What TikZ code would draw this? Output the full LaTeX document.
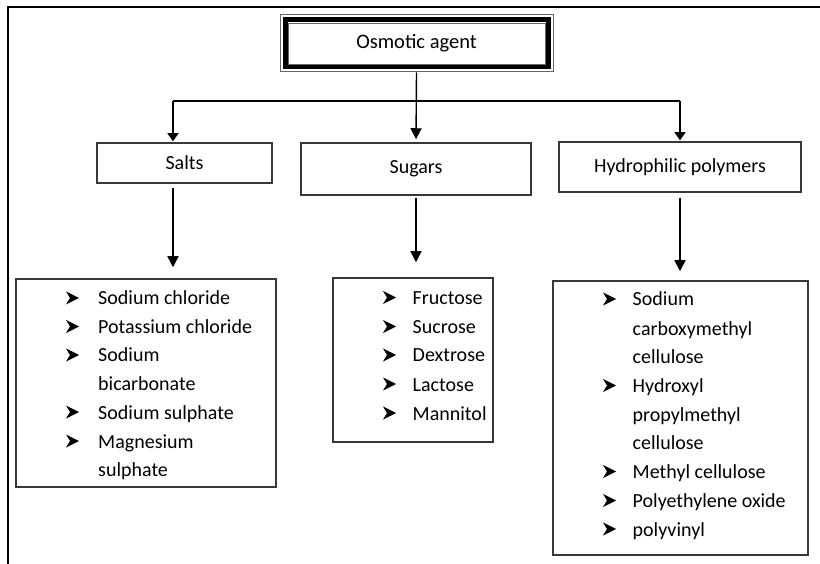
\documentclass[tikz,border=0pt]{standalone}
\usepackage{fontspec}
\setmainfont{Carlito}
\usetikzlibrary{arrows.meta,calc}

\tikzset{
  frameline/.style={line width=2pt, black},
  catbox/.style={draw=black!78, line width=1.5pt, rectangle, inner sep=0pt,
                 font=\fontsize{20}{24}\selectfont},
  listbox/.style={draw=black!78, line width=1.5pt, rectangle, inner sep=0pt},
  itemtext/.style={anchor=base west, inner sep=0pt, font=\fontsize{20}{24}\selectfont},
  flow/.style={line width=1.4pt, black},
  bigarrow/.style={flow, -{Triangle[length=11pt,width=11pt]}},
  smallarrow/.style={flow, -{Triangle[length=8pt,width=11pt]}},
  pics/arrowbullet/.style={code={
    \fill[black] (0,-6.5) -- (13,0) -- (0,6.5) -- (4,0) -- cycle;}}
}

\begin{document}
\begin{tikzpicture}[x=1pt,y=-1pt]
\useasboundingbox (0,0) rectangle (820,564);
\fill[white] (0,0) rectangle (820,564);

% page frame (top and left edges)
\draw[frameline] (8,564) -- (8,7) -- (820,7);

% root node with a heavy double border
\node[draw=black!60, line width=1pt, rectangle, minimum width=273pt,
      minimum height=57pt, inner sep=0pt,
      font=\fontsize{20.5}{24}\selectfont] (agent) at (416.5,43.5) {Osmotic agent};
\draw[line width=5pt, black]
  ([shift={(5.5,5.5)}]agent.north west) rectangle ([shift={(-5.5,-5.5)}]agent.south east);
\draw[line width=0.8pt, black!60]
  ([shift={(8.5,8.5)}]agent.north west) rectangle ([shift={(-8.5,-8.5)}]agent.south east);

% category boxes
\node[catbox, minimum width=175pt, minimum height=40pt] (salts) at (184.5,163) {Salts};
\node[catbox, minimum width=230pt, minimum height=52pt] (sugars) at (416,169) {Sugars};
\node[catbox, minimum width=242pt, minimum height=50pt] (hydro) at (680,167) {Hydrophilic polymers};

% branch bar
\coordinate (jl) at (173,101);
\coordinate (jr) at (680,101);
\draw[flow] (jl) -- (jr);
\draw[smallarrow, shorten >=1pt] (jl) -- (jl |- salts.north);
\draw[smallarrow, shorten >=1pt] (jr) -- (hydro.north);
\draw[bigarrow, shorten >=3pt] (agent.south) -- (sugars.north);

% list boxes
\node[listbox, minimum width=260pt, minimum height=208pt] (saltlist) at (146,383) {};
\node[listbox, minimum width=160pt, minimum height=164pt] (sugarlist) at (413,360) {};
\node[listbox, minimum width=255pt, minimum height=274pt] (hydrolist) at (680.5,418) {};

% arrows down to the lists
\draw[bigarrow, shorten <=4pt, shorten >=11pt] (salts.south -| jl) -- (saltlist.north -| jl);
\draw[bigarrow, shorten <=2pt, shorten >=15pt] (sugars.south) -- (sugarlist.north -| sugars.south);
\draw[bigarrow, shorten <=5pt, shorten >=9pt] (hydro.south) -- (hydrolist.north -| hydro.south);

% salts list
\foreach \b/\t [count=\i] in {305/Sodium chloride, 333.5/Potassium chloride,
    362/Sodium, 390.5/bicarbonate, 419/Sodium sulphate, 448/Magnesium, 476.5/sulphate} {
  \node[itemtext] (s\i) at (98,\b) {\t};
}
\foreach \b in {305,333.5,362,419,448} { \pic at (66,\b-7) {arrowbullet}; }

% sugars list
\foreach \b/\t [count=\i] in {304.5/Fructose, 333.5/Sucrose, 362/Dextrose,
    391/Lactose, 420/Mannitol} {
  \node[itemtext] (g\i) at (412.5,\b) {\t};
  \pic at (383,\b-7) {arrowbullet};
}

% polymers list
\foreach \b/\t [count=\i] in {306/Sodium, 335/carboxymethyl, 363.5/cellulose,
    392.5/Hydroxyl, 421/propylmethyl, 449.5/cellulose, 478.5/Methyl cellulose,
    507.5/Polyethylene oxide, 536/polyvinyl} {
  \node[itemtext] (p\i) at (632.5,\b) {\t};
}
\foreach \b in {306,392.5,478.5,507.5,536} { \pic at (603,\b-7) {arrowbullet}; }
\end{tikzpicture}
\end{document}
